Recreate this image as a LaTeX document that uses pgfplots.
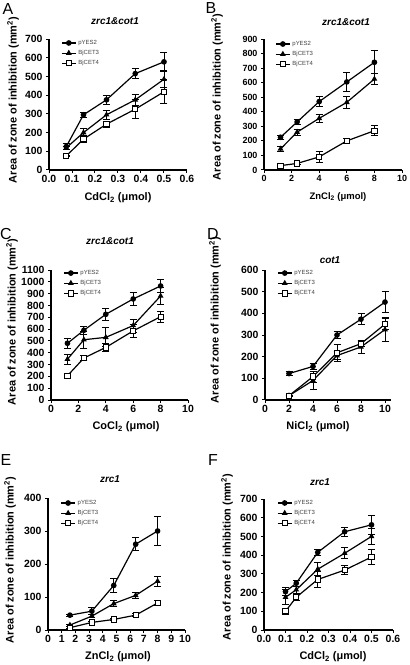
\documentclass[border=0pt]{standalone}
\usepackage{fontspec}
\setmainfont{Liberation Sans}
\usepackage{pgfplots}
\pgfplotsset{compat=1.18}
\pgfplotsset{
  panel/.style={
    scale only axis, anchor=north west,
    axis lines*=left, axis line style={-, line width=1.1bp},
    tick align=outside, major tick length=3bp,
    tick style={line width=1bp, black},
    ymin=0, clip=false,
    tick label style={font=\fontsize{10.5}{11}\selectfont\bfseries},
    /pgf/number format/assume math mode=true,
    /pgf/number format/1000 sep={},
    scaled ticks=false,
    xticklabel style={yshift=1bp},
    legend style={draw=none, fill=none, anchor=north west, inner sep=0pt,
      font=\fontsize{6}{6.5}\selectfont, text=black!75, row sep=0.4bp, cells={anchor=west}},
    legend image code/.code={\draw[mark repeat=2,mark phase=2,##1] plot coordinates {(0bp,0bp)(7bp,0bp)(14bp,0bp)};},
  },
  ebar/.style={error bars/.cd, y dir=both, y explicit,
      error bar style={line width=0.9bp, solid},
      error mark options={rotate=90, mark size=3.5bp, line width=0.9bp}},
  s1/.style={black, line width=1.2bp, mark=*, mark size=2.2bp, mark options={solid, fill=black}, ebar},
  s2/.style={black, line width=1.2bp, mark=triangle*, mark size=2.2bp, mark options={solid, fill=black}, ebar},
  s3/.style={black, line width=1.2bp, mark=square*, mark size=2.6bp, mark options={solid, fill=white, line width=1bp}, ebar},
}
\begin{document}
\begin{tikzpicture}
\path[use as bounding box] (0,0) rectangle (410bp,-665bp);
\tikzset{lab/.style={font=\fontsize{11}{12}\selectfont\bfseries},
         ttl/.style={font=\fontsize{10}{11}\selectfont\bfseries\itshape},
         let/.style={font=\fontsize{16}{17}\selectfont}}
% ---------------- A
\begin{axis}[panel, at={(49bp,-39bp)}, width=138bp, height=131bp,
  xmin=0, xmax=0.6, ymax=700, xtick={0,0.1,...,0.6}, ytick={0,100,...,700},
  xticklabel style={/pgf/number format/.cd, fixed, fixed zerofill, precision=1},
  legend style={at={(0.087,1.008)}}]
\addplot[s1] coordinates {(0.075,125)+-(0,15) (0.15,295)+-(0,15) (0.25,375)+-(0,25) (0.375,515)+-(0,25) (0.5,578)+-(0,50)};
\addplot[s2] coordinates {(0.075,118)+-(0,10) (0.15,200)+-(0,20) (0.25,295)+-(0,25) (0.375,375)+-(0,30) (0.5,485)+-(0,45)};
\addplot[s3] coordinates {(0.075,75)+-(0,5) (0.15,165)+-(0,20) (0.25,245)+-(0,15) (0.375,325)+-(0,50) (0.5,418)+-(0,65)};
\legend{pYES2,BjCET3,BjCET4}
\end{axis}
% ---------------- B
\begin{axis}[panel, at={(264bp,-39bp)}, width=138bp, height=131bp,
  xmin=0, xmax=10, ymax=900, xtick={0,2,...,10}, ytick={0,100,...,900},
  tick label style={font=\fontsize{9}{10}\selectfont\bfseries},
  legend style={at={(0.08,1.0)}}]
\addplot[s1] coordinates {(1.2,225)+-(0,15) (2.4,330)+-(0,15) (4,470)+-(0,35) (6,605)+-(0,65) (8,740)+-(0,80)};
\addplot[s2] coordinates {(1.2,145)+-(0,15) (2.4,260)+-(0,20) (4,355)+-(0,25) (6,465)+-(0,40) (8,625)+-(0,40)};
\addplot[s3] coordinates {(1.2,30)+-(0,5) (2.4,45)+-(0,5) (4,90)+-(0,35) (6,200)+-(0,15) (8,270)+-(0,35)};
\legend{pYES2,BjCET3,BjCET4}
\end{axis}
% ---------------- C
\begin{axis}[panel, at={(51bp,-270bp)}, width=137bp, height=130bp,
  xmin=0, xmax=10, ymax=1100, xtick={0,2,...,10}, ytick={0,100,...,1100},
  legend style={at={(0.088,1.015)}}]
\addplot[s1] coordinates {(1.2,480)+-(0,45) (2.4,590)+-(0,35) (4,725)+-(0,50) (6,855)+-(0,55) (8,965)+-(0,55)};
\addplot[s2] coordinates {(1.2,345)+-(0,40) (2.4,510)+-(0,70) (4,530)+-(0,80) (6,630)+-(0,55) (8,880)+-(0,70)};
\addplot[s3] coordinates {(1.2,205)+-(0,15) (2.4,355)+-(0,20) (4,445)+-(0,35) (6,585)+-(0,55) (8,705)+-(0,45)};
\legend{pYES2,BjCET3,BjCET4}
\end{axis}
% ---------------- D
\begin{axis}[panel, at={(265bp,-270bp)}, width=126bp, height=130bp,
  xmin=0, xmax=10.5, ymax=600, xtick={0,2,...,10}, ytick={0,100,...,600},
  legend style={at={(0.095,1.015)}}]
\addplot[s1] coordinates {(2,122)+-(0,10) (4,155)+-(0,15) (6,300)+-(0,15) (8,373)+-(0,25) (10,452)+-(0,50)};
\addplot[s2] coordinates {(2,20)+-(0,3) (4,90)+-(0,40) (6,205)+-(0,20) (8,245)+-(0,30) (10,325)+-(0,55)};
\addplot[s3] coordinates {(2,20)+-(0,3) (4,108)+-(0,25) (6,218)+-(0,40) (8,260)+-(0,15) (10,350)+-(0,25)};
\legend{pYES2,BjCET3,BjCET4}
\end{axis}
% ---------------- E
\begin{axis}[panel, at={(48bp,-498bp)}, width=137bp, height=132bp,
  xmin=0, xmax=10, ymax=400, xtick={0,1,...,10}, ytick={0,100,...,400},
  legend style={at={(0.09,1.0)}}]
\addplot[s1] coordinates {(1.6,45)+-(0,3) (3.2,57)+-(0,10) (4.8,135)+-(0,20) (6.4,260)+-(0,20) (8,300)+-(0,45)};
\addplot[s2] coordinates {(1.6,15)+-(0,3) (3.2,42)+-(0,5) (4.8,80)+-(0,10) (6.4,105)+-(0,8) (8,148)+-(0,15)};
\addplot[s3] coordinates {(1.6,7)+-(0,3) (3.2,23)+-(0,3) (4.8,32)+-(0,3) (6.4,45)+-(0,5) (8,82)+-(0,8)};
\legend{pYES2,BjCET3,BjCET4}
\end{axis}
% ---------------- F
\begin{axis}[panel, at={(264bp,-499bp)}, width=129bp, height=131bp,
  xmin=0, xmax=0.6, ymax=700, xtick={0,0.1,...,0.6}, ytick={0,100,...,700},
  xticklabel style={/pgf/number format/.cd, fixed, fixed zerofill, precision=1},
  legend style={at={(0.1,1.008)}}]
\addplot[s1] coordinates {(0.1,205)+-(0,20) (0.15,250)+-(0,15) (0.25,415)+-(0,15) (0.375,525)+-(0,25) (0.5,562)+-(0,50)};
\addplot[s2] coordinates {(0.1,175)+-(0,40) (0.15,215)+-(0,20) (0.25,325)+-(0,35) (0.375,410)+-(0,30) (0.5,500)+-(0,45)};
\addplot[s3] coordinates {(0.1,100)+-(0,15) (0.15,175)+-(0,15) (0.25,270)+-(0,45) (0.375,320)+-(0,25) (0.5,390)+-(0,40)};
\legend{pYES2,BjCET3,BjCET4}
\end{axis}
% ---------------- texts
\node[let] at (8bp,-9bp) {A};
\node[let] at (211bp,-8bp) {B};
\node[let] at (6bp,-234bp) {C};
\node[let] at (213bp,-234bp) {D};
\node[let] at (6bp,-460bp) {E};
\node[let] at (213bp,-460bp) {F};
\node[ttl] at (115bp,-21bp) {zrc1\&cot1};
\node[ttl] at (346bp,-22bp) {zrc1\&cot1};
\node[ttl] at (110bp,-241bp) {zrc1\&cot1};
\node[ttl] at (330bp,-260bp) {cot1};
\node[ttl] at (110bp,-479bp) {zrc1};
\node[ttl] at (320bp,-482bp) {zrc1};
\node[lab] at (118bp,-198bp) {CdCl\textsubscript{2} (μmol)};
\node[lab,font=\fontsize{9.5}{10}\selectfont\bfseries] at (338bp,-197bp) {ZnCl\textsubscript{2} (μmol)};
\node[lab] at (126bp,-427bp) {CoCl\textsubscript{2} (μmol)};
\node[lab] at (318bp,-427bp) {NiCl\textsubscript{2} (μmol)};
\node[lab] at (118bp,-657bp) {ZnCl\textsubscript{2} (μmol)};
\node[lab] at (333bp,-657bp) {CdCl\textsubscript{2} (μmol)};
\node[lab,rotate=90] at (13bp,-100bp) {Area of zone of inhibition (mm\textsuperscript{2})};
\node[lab,rotate=90] at (217bp,-97bp) {Area of zone of inhibition (mm\textsuperscript{2})};
\node[lab,rotate=90] at (12bp,-322bp) {Area of zone of inhibition (mm\textsuperscript{2})};
\node[lab,rotate=90] at (215bp,-320bp) {Area of zone of inhibition (mm\textsuperscript{2})};
\node[lab,rotate=90] at (10bp,-560bp) {Area of zone of inhibition (mm\textsuperscript{2})};
\node[lab,rotate=90] at (227bp,-557bp) {Area of zone of inhibition (mm\textsuperscript{2})};
\end{tikzpicture}
\end{document}
